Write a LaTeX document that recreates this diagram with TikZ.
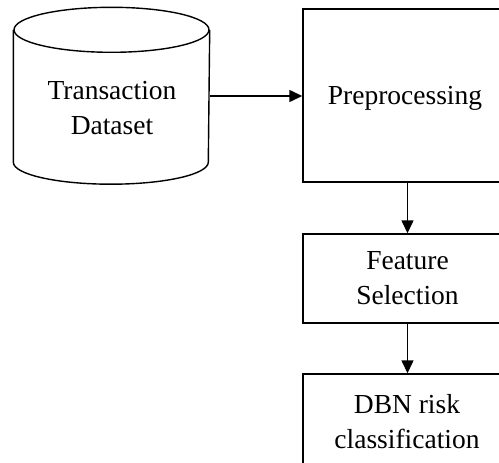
\documentclass[tikz,border=0pt]{standalone}
\usepackage{fontspec}
\setmainfont{Liberation Serif}
\usetikzlibrary{arrows.meta}
\begin{document}
\begin{tikzpicture}[x=1pt,y=-1pt,
  line width=1.4pt,
  lbl/.style={font=\fontsize{27.5}{35}\selectfont, align=center, inner sep=0pt},
  stage/.style={draw, rectangle, minimum width=209pt, inner sep=0pt},
  flow/.style={-{Triangle[length=13pt,width=12pt]}}]
\useasboundingbox (0,0) rectangle (499,463);
\clip (0,0) rectangle (499,463);
% cylinder body
\node (db) [rectangle, minimum width=195pt, minimum height=131pt, inner sep=0pt] at (111.5,96) {};
\draw (db.north west) -- (db.south west) arc[start angle=180, end angle=360, x radius=97.5pt, y radius=22pt] -- (db.north east);
\draw (db.north) ellipse[x radius=97.5pt, y radius=22.5pt];
\node (dbtext) [lbl] at (112,108) {Transaction\\Dataset};
% stages
\node (pre) [stage, minimum height=173pt] at (407.5,95.5) {};
\node (pretext) [lbl] at (405,98) {Preprocessing};
\node (feat) [stage, minimum height=89pt, lbl] at (407.5,278.5) {Feature\\Selection};
\node (dbn) [stage, minimum height=100pt] at (407.5,424) {};
\node (dbntext) [lbl] at (407,422) {DBN risk\\classification};
% connectors
\draw[flow] (db.east) -- (db.east -| pre.west);
\draw[flow] (pre.south) -- (feat.north);
\draw[flow] (feat.south) -- (dbn.north);
\end{tikzpicture}
\end{document}
